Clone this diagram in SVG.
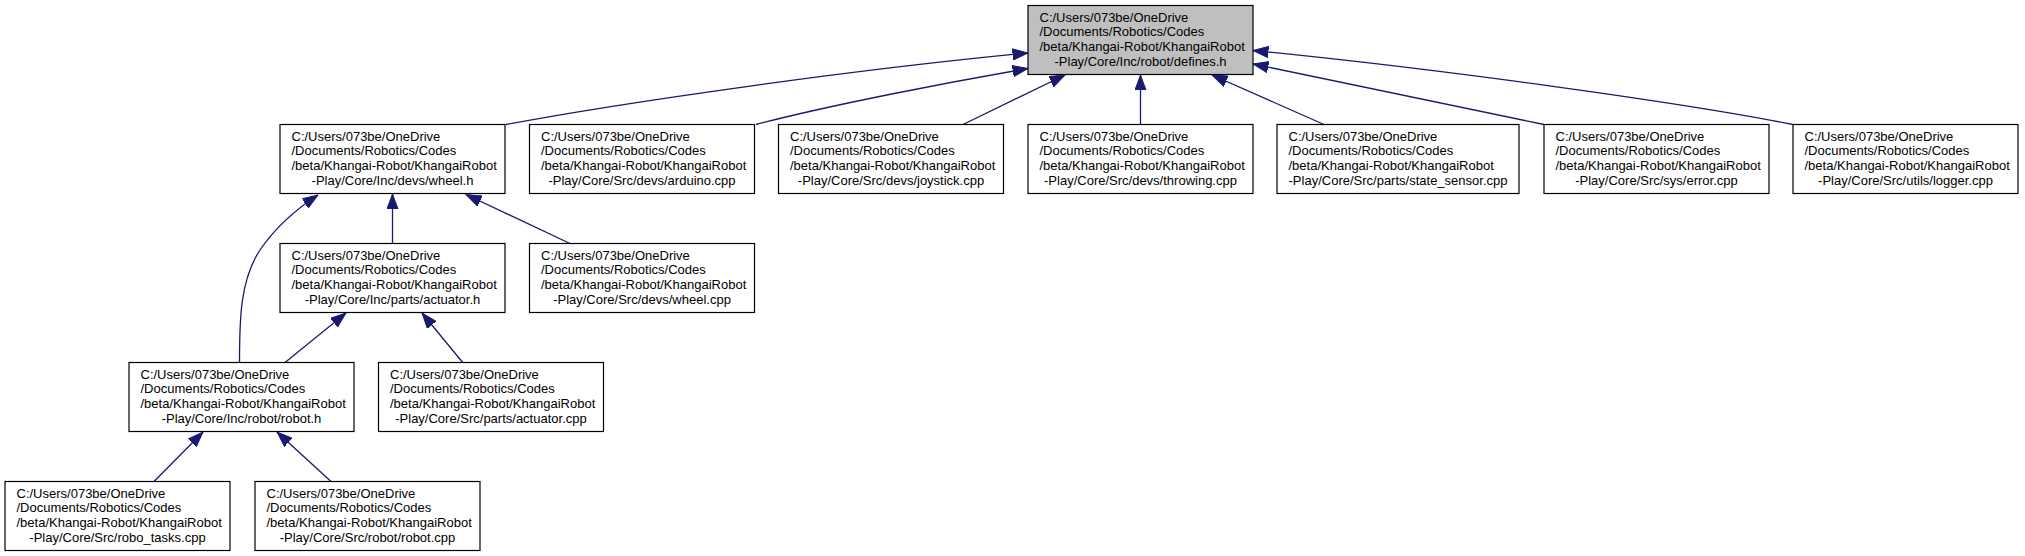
<svg xmlns="http://www.w3.org/2000/svg" width="2025" height="556" viewBox="0 0 2025 556">
<style>
.node rect{fill:#ffffff;stroke:#000000;stroke-width:1.2}
.root rect{fill:#bfbfbf}
.node text{font-family:"Liberation Sans",Arial,sans-serif;font-size:13px;fill:#000000}
.node .c{text-anchor:middle}
.edges path{fill:none;stroke:#191970;stroke-width:1.3;marker-end:url(#ah)}
</style>
<defs>
<marker id="ah" markerUnits="userSpaceOnUse" markerWidth="16" markerHeight="12" refX="13.5" refY="5" orient="auto" viewBox="0 0 14 10">
<path d="M0,0 L13.5,5 L0,10 z" fill="#191970" stroke="#191970" stroke-width="0.8"/>
</marker>
</defs>
<rect width="2025" height="556" fill="#ffffff"/>
<g class="edges" id="edges">
<path d="M506,124.5 C620,103 850,70 1028,53"/>
<path d="M756,124.5 C830,105 950,82 1028,68.5"/>
<path d="M963,124.5 L1065,75"/>
<path d="M1140.5,124.5 L1140.5,75"/>
<path d="M1324,124.5 L1212,75"/>
<path d="M1544,124.5 L1253,64"/>
<path d="M1793,124.5 C1690,104 1450,70 1253,50.5"/>
<path d="M392.5,243.5 L392.5,194"/>
<path d="M570,243.5 L466,194.5"/>
<path d="M239.5,362.5 C239.5,320 240,280 260,250 C275,228 295,210 318,195"/>
<path d="M285,362.5 L346,313"/>
<path d="M462.7,362.5 L422,313"/>
<path d="M154,481.5 L203,432"/>
<path d="M331,481.5 L277,432"/>
</g>
<g id="defines_h" class="node root">
<rect x="1028" y="5.5" width="225" height="69"/>
<text x="1039.5" y="21.5">C:/Users/073be/OneDrive</text>
<text x="1039.5" y="36.3">/Documents/Robotics/Codes</text>
<text x="1039.5" y="51.1">/beta/Khangai-Robot/KhangaiRobot</text>
<text class="c" x="1140.5" y="65.9">-Play/Core/Inc/robot/defines.h</text>
</g>
<g id="wheel_h" class="node">
<rect x="280" y="124.5" width="225" height="69"/>
<text x="291.5" y="140.5">C:/Users/073be/OneDrive</text>
<text x="291.5" y="155.3">/Documents/Robotics/Codes</text>
<text x="291.5" y="170.1">/beta/Khangai-Robot/KhangaiRobot</text>
<text class="c" x="392.5" y="184.9">-Play/Core/Inc/devs/wheel.h</text>
</g>
<g id="arduino_cpp" class="node">
<rect x="529.5" y="124.5" width="225" height="69"/>
<text x="541" y="140.5">C:/Users/073be/OneDrive</text>
<text x="541" y="155.3">/Documents/Robotics/Codes</text>
<text x="541" y="170.1">/beta/Khangai-Robot/KhangaiRobot</text>
<text class="c" x="642" y="184.9">-Play/Core/Src/devs/arduino.cpp</text>
</g>
<g id="joystick_cpp" class="node">
<rect x="778.5" y="124.5" width="225" height="69"/>
<text x="790" y="140.5">C:/Users/073be/OneDrive</text>
<text x="790" y="155.3">/Documents/Robotics/Codes</text>
<text x="790" y="170.1">/beta/Khangai-Robot/KhangaiRobot</text>
<text class="c" x="891" y="184.9">-Play/Core/Src/devs/joystick.cpp</text>
</g>
<g id="throwing_cpp" class="node">
<rect x="1028" y="124.5" width="225" height="69"/>
<text x="1039.5" y="140.5">C:/Users/073be/OneDrive</text>
<text x="1039.5" y="155.3">/Documents/Robotics/Codes</text>
<text x="1039.5" y="170.1">/beta/Khangai-Robot/KhangaiRobot</text>
<text class="c" x="1140.5" y="184.9">-Play/Core/Src/devs/throwing.cpp</text>
</g>
<g id="state_sensor_cpp" class="node">
<rect x="1277" y="124.5" width="242" height="69"/>
<text x="1288.5" y="140.5">C:/Users/073be/OneDrive</text>
<text x="1288.5" y="155.3">/Documents/Robotics/Codes</text>
<text x="1288.5" y="170.1">/beta/Khangai-Robot/KhangaiRobot</text>
<text class="c" x="1398" y="184.9">-Play/Core/Src/parts/state_sensor.cpp</text>
</g>
<g id="error_cpp" class="node">
<rect x="1544" y="124.5" width="225" height="69"/>
<text x="1555.5" y="140.5">C:/Users/073be/OneDrive</text>
<text x="1555.5" y="155.3">/Documents/Robotics/Codes</text>
<text x="1555.5" y="170.1">/beta/Khangai-Robot/KhangaiRobot</text>
<text class="c" x="1656.5" y="184.9">-Play/Core/Src/sys/error.cpp</text>
</g>
<g id="logger_cpp" class="node">
<rect x="1793" y="124.5" width="225" height="69"/>
<text x="1804.5" y="140.5">C:/Users/073be/OneDrive</text>
<text x="1804.5" y="155.3">/Documents/Robotics/Codes</text>
<text x="1804.5" y="170.1">/beta/Khangai-Robot/KhangaiRobot</text>
<text class="c" x="1905.5" y="184.9">-Play/Core/Src/utils/logger.cpp</text>
</g>
<g id="actuator_h" class="node">
<rect x="280" y="243.5" width="225" height="69"/>
<text x="291.5" y="259.5">C:/Users/073be/OneDrive</text>
<text x="291.5" y="274.3">/Documents/Robotics/Codes</text>
<text x="291.5" y="289.1">/beta/Khangai-Robot/KhangaiRobot</text>
<text class="c" x="392.5" y="303.9">-Play/Core/Inc/parts/actuator.h</text>
</g>
<g id="wheel_cpp" class="node">
<rect x="529.5" y="243.5" width="225" height="69"/>
<text x="541" y="259.5">C:/Users/073be/OneDrive</text>
<text x="541" y="274.3">/Documents/Robotics/Codes</text>
<text x="541" y="289.1">/beta/Khangai-Robot/KhangaiRobot</text>
<text class="c" x="642" y="303.9">-Play/Core/Src/devs/wheel.cpp</text>
</g>
<g id="robot_h" class="node">
<rect x="129" y="362.5" width="225" height="69"/>
<text x="140.5" y="378.5">C:/Users/073be/OneDrive</text>
<text x="140.5" y="393.3">/Documents/Robotics/Codes</text>
<text x="140.5" y="408.1">/beta/Khangai-Robot/KhangaiRobot</text>
<text class="c" x="241.5" y="422.9">-Play/Core/Inc/robot/robot.h</text>
</g>
<g id="actuator_cpp" class="node">
<rect x="378.5" y="362.5" width="225" height="69"/>
<text x="390" y="378.5">C:/Users/073be/OneDrive</text>
<text x="390" y="393.3">/Documents/Robotics/Codes</text>
<text x="390" y="408.1">/beta/Khangai-Robot/KhangaiRobot</text>
<text class="c" x="491" y="422.9">-Play/Core/Src/parts/actuator.cpp</text>
</g>
<g id="robo_tasks_cpp" class="node">
<rect x="5" y="481.5" width="225" height="69"/>
<text x="16.5" y="497.5">C:/Users/073be/OneDrive</text>
<text x="16.5" y="512.3">/Documents/Robotics/Codes</text>
<text x="16.5" y="527.1">/beta/Khangai-Robot/KhangaiRobot</text>
<text class="c" x="117.5" y="541.9">-Play/Core/Src/robo_tasks.cpp</text>
</g>
<g id="robot_cpp" class="node">
<rect x="255" y="481.5" width="225" height="69"/>
<text x="266.5" y="497.5">C:/Users/073be/OneDrive</text>
<text x="266.5" y="512.3">/Documents/Robotics/Codes</text>
<text x="266.5" y="527.1">/beta/Khangai-Robot/KhangaiRobot</text>
<text class="c" x="367.5" y="541.9">-Play/Core/Src/robot/robot.cpp</text>
</g>
</svg>
